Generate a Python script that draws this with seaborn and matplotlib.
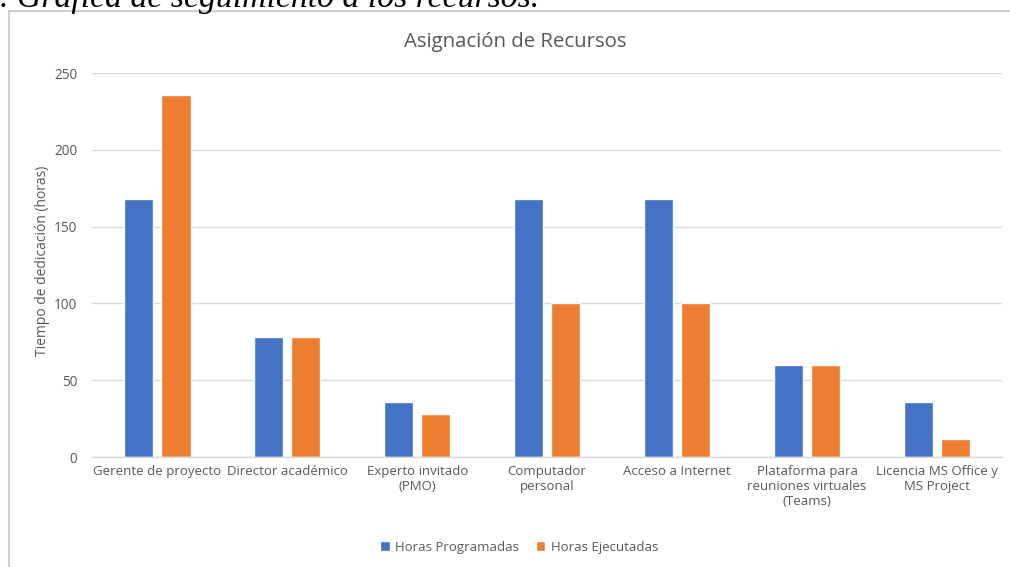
import matplotlib
matplotlib.use("Agg")
import matplotlib.pyplot as plt
import seaborn as sns
import pandas as pd
from matplotlib.patches import Rectangle

categorias = ["Gerente de proyecto", "Director académico", "Experto invitado\n(PMO)",
              "Computador\npersonal", "Acceso a Internet",
              "Plataforma para\nreuniones virtuales\n(Teams)", "Licencia MS Office y\nMS Project"]
horas_programadas = [168, 78, 36, 168, 168, 60, 36]
horas_ejecutadas = [236, 78, 28, 100, 100, 60, 12]
series = ["Horas Programadas", "Horas Ejecutadas"]
colores = ["#4472C4", "#ED7D31"]
yticks = [0, 50, 100, 150, 200, 250]

df = pd.DataFrame({
    "cat": categorias * 2,
    "serie": [series[0]] * len(categorias) + [series[1]] * len(categorias),
    "valor": horas_programadas + horas_ejecutadas,
})

sns.set_theme(style="white")
plt.rcParams["font.family"] = ["Open Sans", "DejaVu Sans"]

fig = plt.figure(figsize=(10.1, 5.67), dpi=100)
ax = fig.add_axes([0.0915, 0.194, 0.9005, 0.677])

sns.barplot(data=df, x="cat", y="valor", hue="serie", palette=colores,
            width=0.573, gap=0.22, ax=ax, saturation=1, legend=True)

ax.set_ylim(0, 250)
ax.set_xlim(-0.5, len(categorias) - 0.5)
ax.set_yticks(yticks)
ax.yaxis.grid(True, color="#D9D9D9", linewidth=1)
ax.set_axisbelow(True)
for s in ["top", "right", "left"]:
    ax.spines[s].set_visible(False)
ax.spines["bottom"].set_color("#D9D9D9")
ax.spines["bottom"].set_linewidth(1)
ax.tick_params(axis="both", length=0, labelsize=9.5, labelcolor="#595959")
ax.tick_params(axis="y", labelsize=9.8)
ax.tick_params(axis="x", pad=6)
ax.tick_params(axis="y", pad=11)
ax.set_xlabel("")
ax.set_ylabel("Tiempo de dedicación (horas)", fontsize=10, color="#595959")
ax.yaxis.set_label_coords(-0.047, 0.51)

for t in ax.get_xticklabels():
    t.set_multialignment("center")

fig.text(0.51, 1 - 42 / 567, "Asignación de Recursos", fontsize=14.7, color="#595959",
         ha="center", va="center")

handles, labels = ax.get_legend_handles_labels()
ax.legend(handles, labels, loc="center", bbox_to_anchor=(0.514, 0.035),
          bbox_transform=fig.transFigure, ncol=2, frameon=False,
          fontsize=9.5, labelcolor="#595959", handlelength=0.7, handleheight=0.7,
          handletextpad=0.4, columnspacing=1.3)

fig.patches.append(Rectangle((0.009, -0.05), 1.2, 1.03, transform=fig.transFigure,
                             fill=False, edgecolor="#D0D0D0", linewidth=1.5, zorder=0))

fig.text(0.0, 1 - 7 / 567, ". Gráfica de seguimiento a los recursos.", fontsize=24.3,
         family=["Liberation Serif", "DejaVu Serif"], style="italic",
         va="baseline", ha="left", color="black")

fig.savefig("out.png", dpi=100)
